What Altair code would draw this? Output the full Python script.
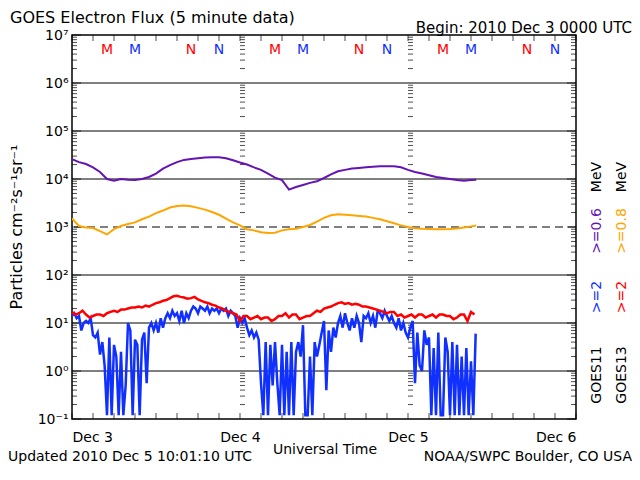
import altair as alt
import pandas as pd

FONT = "DejaVu Sans"

# ---------------- data (hours since 2010 Dec 3 00:00 UTC) ----------------
hourly_hours = list(range(58)) + [57.75]

# GOES11 >=0.6 MeV (purple)
purple_ge06 = [
    26000, 22500, 20500, 17500, 14000, 10000, 9200, 10000, 9600, 9500,
    10000, 11000, 13000, 16500, 19500, 22500, 25000, 26000, 27000, 28000,
    28500, 28500, 27000, 24500, 22000, 20000, 17500, 15500, 13000, 10700,
    9500, 6000, 6800, 7500, 8300, 9000, 10500, 12500, 14500, 15500,
    16500, 17000, 17500, 18000, 18500, 18500, 18500, 17500, 15500, 14000,
    13000, 12000, 11000, 10500, 10000, 9500, 9200, 9500,
    9600,
]

# GOES13 >=0.8 MeV (orange)
orange_ge08 = [
    1500, 1050, 980, 950, 820, 700, 900, 1050, 1150, 1250,
    1450, 1650, 1950, 2200, 2550, 2750, 2800, 2700, 2500, 2300,
    2050, 1800, 1500, 1250, 1080, 900, 850, 780, 750, 760,
    850, 900, 920, 1000, 1100, 1300, 1550, 1750, 1850, 1800,
    1750, 1700, 1650, 1550, 1450, 1320, 1200, 1080, 1000, 940,
    920, 910, 900, 900, 910, 930, 980, 1030,
    1080,
]

# GOES11 >=2 MeV (blue), 20-minute samples
blue_step_min = 20
blue_ge2 = [
    14, 16, 12.6, 14, 7, 10, 11, 10, 12.6, 5.6, 5, 6.3,
    2.2, 4, 1.26, 0.12, 5, 0.12, 3.5, 2, 0.12, 2.5, 0.12, 0.5,
    10, 7, 0.12, 4.5, 3.5, 0.12, 4.5, 6.3, 0.56, 8, 10, 7,
    10, 6.3, 12.6, 8, 12.6, 16, 12.6, 18, 14, 16, 11, 18,
    10, 16, 12.6, 18, 22, 20, 16, 22, 20, 18, 22, 16,
    20, 18, 20, 16, 20, 18, 20, 14, 18, 16, 14, 8,
    12.6, 10, 12.6, 8, 5.6, 7, 5, 6.3, 4.5, 0.56, 0.12, 4,
    0.12, 3.5, 0.5, 4, 0.56, 0.12, 3.5, 0.12, 2.5, 0.12, 4, 0.12,
    2.5, 4, 2, 9, 0.12, 0.12, 2, 0.12, 4, 2, 3.5, 6.3,
    11, 0.4, 7, 2.5, 8, 5, 10, 14, 8, 16, 10, 7,
    12.6, 8, 14, 10, 4, 14, 12.6, 16, 10, 14, 8, 18,
    16, 12.6, 18, 14, 11, 14, 10, 8, 12.6, 7, 10, 6.3,
    5, 8, 11, 0.56, 6.3, 1.3, 1, 7, 3.5, 5, 0.12, 3,
    0.12, 6.3, 0.12, 0.12, 5, 2.5, 0.12, 4, 0.12, 3.5, 0.12, 2,
    0.12, 3, 0.12, 1.6, 0.12, 6,
]

# GOES13 >=2 MeV (red), 30-minute samples
red_step_min = 30
red_ge2 = [
    17, 15, 16, 18, 15, 13, 14, 15, 15, 14, 16, 17,
    18, 17, 19, 19, 20, 21, 21, 22, 21, 23, 22, 24,
    26, 27, 29, 30, 33, 36, 37, 35, 34, 32, 33, 35,
    31, 29, 27, 26, 24, 23, 21, 20, 18, 17, 16, 15,
    11, 14, 14, 12, 13, 14, 12, 13, 13, 11, 12, 14,
    14, 16, 13, 15, 15, 12, 13, 14, 14, 16, 18, 17,
    20, 21, 22, 24, 26, 27, 25, 26, 24, 25, 24, 22,
    22, 21, 20, 19, 18, 17, 16, 17, 17, 14, 15, 13,
    14, 15, 13, 15, 15, 13, 14, 15, 13, 15, 15, 14,
    14, 12, 13, 15, 15, 11, 17, 15,
]

# local midnight / noon markers (hours)
marker_hours = [5, 9, 17, 21, 29, 33, 41, 45, 53, 57, 65, 69]
marker_text = ["M", "M", "N", "N"] * 3
marker_color = ["#ff0000", "#1030ff", "#ff0000", "#1030ff"] * 3

day_hours = [0, 24, 48, 72]
three_hour_ticks = list(range(0, 73, 3))
decades = [0.1, 1, 10, 100, 1000, 1e4, 1e5, 1e6, 1e7]
decade_labels = ["10⁻¹", "10⁰", "10¹", "10²", "10³", "10⁴", "10⁵", "10⁶", "10⁷"]
minor_mult = [2, 3, 4, 5, 6, 7, 8, 9]

PURPLE = "#6414b4"
ORANGE = "#ffa500"
BLUE = "#1030ff"
RED = "#ff0000"

# ---------------- frames ----------------
df_purple = pd.DataFrame({"h": hourly_hours, "v": purple_ge06})
df_orange = pd.DataFrame({"h": hourly_hours, "v": orange_ge08})
df_blue = pd.DataFrame({"h": [i * blue_step_min / 60 for i in range(len(blue_ge2))], "v": blue_ge2})
df_red = pd.DataFrame({"h": [i * red_step_min / 60 for i in range(len(red_ge2))], "v": red_ge2})

xscale = alt.Scale(domain=[0, 72], nice=False, zero=False)
yscale = alt.Scale(type="log", domain=[0.1, 1e7], nice=False)

label_expr_y = "[" + ",".join("'%s'" % s for s in decade_labels) + "][round(log(datum.value)/LN10)+1]"
xaxis = alt.Axis(values=day_hours, labelExpr="'Dec ' + (3 + round(datum.value/24))",
                 ticks=False, tickSize=0, domain=False, grid=False, title=None,
                 labelFont=FONT, labelFontSize=14, labelPadding=11, labelColor="black",
                 labelFontWeight="normal")
yaxis = alt.Axis(values=decades, labelExpr=label_expr_y, ticks=False, tickSize=0,
                 domain=False, grid=False, title=None, labelFont=FONT, labelFontSize=14,
                 labelPadding=4, labelColor="black", labelBaseline="middle")

X = alt.X("h:Q", scale=xscale, axis=xaxis)
Y = alt.Y("v:Q", scale=yscale, axis=yaxis)

layers = []

# grid lines at decades
grid_solid = pd.DataFrame({"v": [1, 10, 100, 1e4, 1e5, 1e6]})
grid_dash = pd.DataFrame({"v": [1000]})
layers.append(alt.Chart(grid_solid).mark_rule(color="black", strokeWidth=1.2).encode(y=Y))
layers.append(alt.Chart(grid_dash).mark_rule(color="black", strokeWidth=1.2, strokeDash=[8, 5]).encode(y=Y))

# minor log ticks at left edge and day boundaries (pointing right), right edge (pointing left)
minor_vals = [m * d for d in decades[:-1] for m in minor_mult]
left_ticks = pd.DataFrame([{"h": h, "v": v} for h in day_hours[:-1] for v in minor_vals])
right_ticks = pd.DataFrame([{"h": day_hours[-1], "v": v} for v in minor_vals])
layers.append(alt.Chart(left_ticks).mark_tick(orient="horizontal", size=5, thickness=1,
                                              xOffset=2.5, color="black").encode(x=X, y=Y))
layers.append(alt.Chart(right_ticks).mark_tick(orient="horizontal", size=5, thickness=1,
                                               xOffset=-2.5, color="black").encode(x=X, y=Y))
# major ticks left/right
maj_left = pd.DataFrame({"h": [0] * 9, "v": decades})
maj_right = pd.DataFrame({"h": [72] * 9, "v": decades})
layers.append(alt.Chart(maj_left).mark_tick(orient="horizontal", size=9, thickness=1,
                                            xOffset=4.5, color="black").encode(x=X, y=Y))
layers.append(alt.Chart(maj_right).mark_tick(orient="horizontal", size=9, thickness=1,
                                             xOffset=-4.5, color="black").encode(x=X, y=Y))

# time ticks every 3 h (bottom pointing up, top pointing down)
bot_ticks = pd.DataFrame({"h": three_hour_ticks, "v": [0.1] * len(three_hour_ticks)})
top_ticks = pd.DataFrame({"h": three_hour_ticks, "v": [1e7] * len(three_hour_ticks)})
layers.append(alt.Chart(bot_ticks).mark_tick(orient="vertical", size=6, thickness=1,
                                             yOffset=-3, color="black").encode(x=X, y=Y))
layers.append(alt.Chart(top_ticks).mark_tick(orient="vertical", size=6, thickness=1,
                                             yOffset=3, color="black").encode(x=X, y=Y))

# data lines
layers.append(alt.Chart(df_purple).mark_line(color=PURPLE, strokeWidth=2, clip=True).encode(x=X, y=Y))
layers.append(alt.Chart(df_orange).mark_line(color=ORANGE, strokeWidth=2, clip=True).encode(x=X, y=Y))
layers.append(alt.Chart(df_blue).mark_line(color=BLUE, strokeWidth=2.5, clip=True).encode(x=X, y=Y))
layers.append(alt.Chart(df_red).mark_line(color=RED, strokeWidth=2.5, clip=True).encode(x=X, y=Y))

# M / N markers
df_mark = pd.DataFrame({"h": marker_hours, "t": marker_text, "c": marker_color})
layers.append(alt.Chart(df_mark).mark_text(font=FONT, fontSize=14, baseline="middle", align="center").encode(
    x=X, y=alt.value(15), text="t:N", color=alt.Color("c:N", scale=None)))


def label(text, x, y, size=14, color="black", align="left", angle=0):
    return alt.Chart(pd.DataFrame({"t": [text]})).mark_text(
        font=FONT, fontSize=size, color=color, align=align, baseline="middle", angle=angle
    ).encode(text="t:N", x=alt.value(x), y=alt.value(y))


layers += [
    label("GOES Electron Flux (5 minute data)", -62, -17, size=16),
    label("Begin: 2010 Dec 3 0000 UTC", 560, -7, size=15, align="right"),
    label("Universal Time", 253, 415, size=14, align="center"),
    label("Updated 2010 Dec  5 10:01:10 UTC", -64, 422, size=14),
    label("NOAA/SWPC Boulder, CO USA", 560, 422, size=14, align="right"),
    label("Particles cm⁻²s⁻¹sr⁻¹", -55, 192, size=16, align="center", angle=270),
    # right-hand legend, column 1 (GOES11)
    label("GOES11", 525, 340, align="center", angle=270),
    label(">=2", 525, 262, color=BLUE, align="center", angle=270),
    label(">=0.6", 525, 196, color=PURPLE, align="center", angle=270),
    label("MeV", 525, 142, align="center", angle=270),
    # column 2 (GOES13)
    label("GOES13", 550, 340, align="center", angle=270),
    label(">=2", 550, 262, color=RED, align="center", angle=270),
    label(">=0.8", 550, 196, color=ORANGE, align="center", angle=270),
    label("MeV", 550, 142, align="center", angle=270),
]

chart = alt.layer(*layers).properties(
    width=504, height=384,
    autosize=alt.AutoSizeParams(type="none"),
    padding={"left": 64, "top": 27, "right": 56, "bottom": 45},
    background="white",
).configure_view(stroke="black", strokeWidth=1.5)

chart.save("out.html", embed_options={"renderer": "svg", "actions": False})
